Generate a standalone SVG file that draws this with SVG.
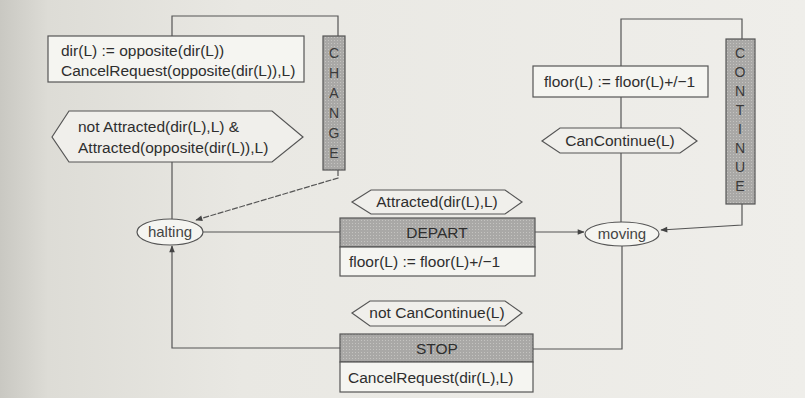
<svg xmlns="http://www.w3.org/2000/svg" width="805" height="398" viewBox="0 0 805 398">
<defs>
<linearGradient id="paper" x1="0" y1="0" x2="1" y2="0">
<stop offset="0" stop-color="#c9c8c2"/>
<stop offset="0.06" stop-color="#dddcd6"/>
<stop offset="0.3" stop-color="#e9e8e3"/>
<stop offset="1" stop-color="#efeeea"/>
</linearGradient>
<pattern id="dots" width="3" height="3" patternUnits="userSpaceOnUse">
<rect width="3" height="3" fill="#a9a8a6"/>
<rect x="1" y="1" width="1" height="1" fill="#c4c3c0"/>
</pattern>
<marker id="arr" viewBox="0 0 10 10" refX="9" refY="5" markerWidth="9" markerHeight="7" orient="auto" markerUnits="userSpaceOnUse">
<path d="M0,1 L10,5 L0,9 z" fill="#444"/>
</marker>
</defs>
<style>
.ln{fill:none;stroke:#555;stroke-width:1.2}
.box{fill:#f5f5f1;stroke:#555;stroke-width:1.2}
.hdr{fill:url(#dots);stroke:#555;stroke-width:1.2}
.hex{fill:#f0efeb;stroke:#555;stroke-width:1.2}
.st{fill:#f5f5f1;stroke:#555;stroke-width:1.2}
.t{font-family:"Liberation Sans",Arial,sans-serif;font-size:15.5px;fill:#2e2e2e}
.c{text-anchor:middle}
.v{font-family:"Liberation Sans",Arial,sans-serif;font-size:14px;fill:#3a3a3a;text-anchor:middle}
.h{font-family:"Liberation Sans",Arial,sans-serif;font-size:15px;fill:#444;text-anchor:middle}
</style>
<rect width="805" height="398" fill="url(#paper)"/>

<g id="connectors">
<polyline class="ln" points="172,81 172,16 338,16 338,36"/>
<line class="ln" x1="172" y1="162" x2="172" y2="219"/>
<polyline class="ln" points="338,170 338,178 196,220" stroke-dasharray="6,1.5" marker-end="url(#arr)"/>
<line class="ln" x1="203" y1="232" x2="340" y2="232"/>
<line class="ln" x1="535" y1="232" x2="584" y2="232" marker-end="url(#arr)"/>
<polyline class="ln" points="340,348 172,348 172,246" marker-end="url(#arr)"/>
<polyline class="ln" points="533,349 622,349 622,246"/>
<polyline class="ln" points="621,222 621,19 742,19 742,39"/>
<polyline class="ln" points="742,204 742,225 661,230" marker-end="url(#arr)"/>
</g>

<g id="change-action">
<rect class="box" x="48" y="36" width="256" height="46"/>
<text class="t" x="61" y="56">dir(L) := opposite(dir(L))</text>
<text class="t" x="61" y="76">CancelRequest(opposite(dir(L)),L)</text>
</g>

<g id="change-condition">
<polygon class="hex" points="52,137 69,111 272,111 303,137 272,162 69,162"/>
<text class="t" x="78" y="132">not Attracted(dir(L),L) &amp;</text>
<text class="t" x="78" y="153">Attracted(opposite(dir(L)),L)</text>
</g>

<g id="change">
<rect class="hdr" x="323" y="36" width="22" height="134"/>
<text class="v" x="334" y="58">C</text>
<text class="v" x="334" y="78">H</text>
<text class="v" x="334" y="98">A</text>
<text class="v" x="334" y="118">N</text>
<text class="v" x="334" y="138">G</text>
<text class="v" x="334" y="158">E</text>
</g>

<g id="continue-action">
<rect class="box" x="533" y="66" width="175" height="31"/>
<text class="t" x="544" y="87">floor(L) := floor(L)+/−1</text>
</g>

<g id="continue-condition">
<polygon class="hex" points="542,141 560,128 680,128 697,141 680,153 560,153"/>
<text class="t c" x="620" y="146">CanContinue(L)</text>
</g>

<g id="continue">
<rect class="hdr" x="726" y="39" width="29" height="165"/>
<text class="v" x="740" y="58">C</text>
<text class="v" x="740" y="77">O</text>
<text class="v" x="740" y="96">N</text>
<text class="v" x="740" y="115">T</text>
<text class="v" x="740" y="134">I</text>
<text class="v" x="740" y="153">N</text>
<text class="v" x="740" y="172">U</text>
<text class="v" x="740" y="191">E</text>
</g>

<g id="halting">
<ellipse class="st" cx="170" cy="232" rx="33" ry="13"/>
<text class="h" x="170" y="237">halting</text>
</g>

<g id="moving">
<ellipse class="st" cx="622" cy="234" rx="37" ry="12"/>
<text class="h" x="622" y="239">moving</text>
</g>

<g id="depart-condition">
<polygon class="hex" points="352,202 371,190 505,190 522,202 505,214 371,214"/>
<text class="t c" x="437" y="207">Attracted(dir(L),L)</text>
</g>

<g id="depart">
<rect class="hdr" x="340" y="218" width="195" height="29"/>
<text class="t c" x="437" y="238" fill="#444">DEPART</text>
<rect class="box" x="340" y="247" width="195" height="29"/>
<text class="t" x="349" y="267">floor(L) := floor(L)+/−1</text>
</g>

<g id="stop-condition">
<polygon class="hex" points="352,313 370,301 505,301 522,313 505,326 370,326"/>
<text class="t c" x="437" y="318">not CanContinue(L)</text>
</g>

<g id="stop">
<rect class="hdr" x="340" y="334" width="193" height="28"/>
<text class="t c" x="437" y="354" fill="#444">STOP</text>
<rect class="box" x="340" y="362" width="193" height="30"/>
<text class="t" x="348" y="383">CancelRequest(dir(L),L)</text>
</g>
</svg>
